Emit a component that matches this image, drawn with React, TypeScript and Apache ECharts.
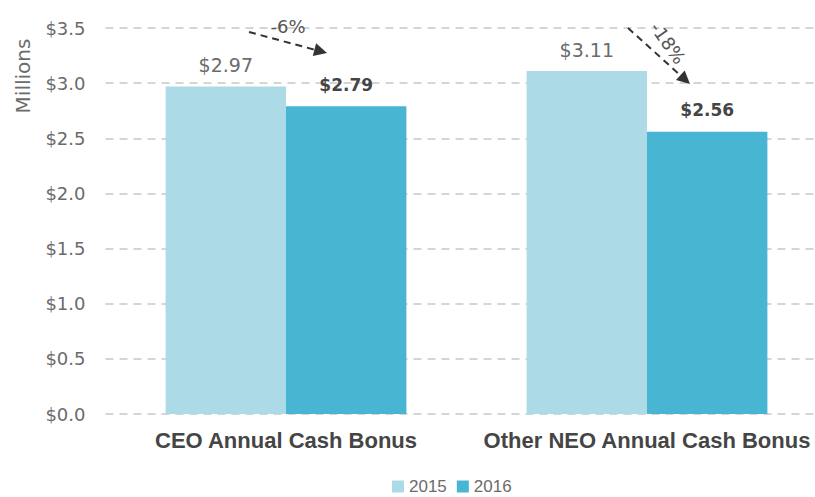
import React, { useEffect, useRef } from "react";
import * as echarts from "echarts";

// ---- data ----
const categories = ["CEO Annual Cash Bonus", "Other NEO Annual Cash Bonus"];
const seriesNames = ["2015", "2016"];
const values2015 = [2.97, 3.11];
const values2016 = [2.79, 2.56];
const changeLabels = ["-6%", "-18%"];
const yMin = 0;
const yMax = 3.5;
const yInterval = 0.5;
const yAxisTitle = "Millions";

// ---- annotation layout (pixel offsets from category centre / top gridline) ----
const annotLayout = [
  { sx: -37, sy: 4, tx: 41, ty: 25, lx: 2, ly: -2, rot: 0 },
  { sx: -19, sy: 0, tx: 43, ty: 56, lx: 21, ly: 15, rot: -55 },
];

const C2015 = "#acdbe7";
const C2016 = "#48b5d2";
const GRAY = "#6b6b6b";
const DARK = "#454545";

export default function App() {
  const ref = useRef<HTMLDivElement>(null);

  useEffect(() => {
    if (!ref.current) return;
    const chart = echarts.init(ref.current, null, { renderer: "svg" });
    const option: any = {
      animation: false,
      backgroundColor: "#ffffff",
      grid: { left: 105.5, right: 2.5, top: 28, bottom: 83, containLabel: false },
      legend: {
        left: 392,
        top: 478,
        padding: 0,
        itemWidth: 12,
        itemHeight: 12,
        itemGap: 10,
        icon: "rect",
        textStyle: { fontFamily: "Liberation Sans", fontSize: 17, color: GRAY, lineHeight: 17 },
        data: seriesNames,
      },
      xAxis: {
        type: "category",
        data: categories,
        axisLine: { show: false },
        axisTick: { show: false },
        axisLabel: {
          interval: 0,
          fontFamily: "Liberation Sans",
          fontWeight: "bold",
          fontSize: 22,
          color: DARK,
          margin: 15,
        },
      },
      yAxis: {
        type: "value",
        min: yMin,
        max: yMax,
        interval: yInterval,
        axisLine: { show: false },
        axisTick: { show: false },
        axisLabel: {
          fontFamily: "DejaVu Sans",
          fontSize: 18,
          color: GRAY,
          margin: 20,
          formatter: (v: number) => "$" + v.toFixed(1),
        },
        splitLine: {
          lineStyle: { color: "#c8c8c8", type: [8, 6], width: 1.5 },
        },
      },
      series: [
        {
          name: seriesNames[0],
          type: "bar",
          data: values2015,
          barGap: "0%",
          barCategoryGap: "33.3%",
          itemStyle: { color: C2015 },
          label: {
            show: true,
            position: "top",
            distance: 12,
            fontFamily: "DejaVu Sans",
            fontSize: 19,
            color: GRAY,
            formatter: (p: any) => "$" + p.value.toFixed(2),
          },
        },
        {
          name: seriesNames[1],
          type: "bar",
          data: values2016,
          barGap: "0%",
          barCategoryGap: "33.3%",
          itemStyle: { color: C2016 },
          label: {
            show: true,
            position: "top",
            distance: 13,
            fontFamily: "DejaVu Sans",
            fontWeight: "bold",
            fontSize: 17,
            color: DARK,
            formatter: (p: any) => "$" + p.value.toFixed(2),
          },
        },
      ],
    };
    chart.setOption(option);

    // annotations anchored on category centres and the top gridline
    const yTop = chart.convertToPixel({ yAxisIndex: 0 }, yMax) as number;
    const graphics: any[] = [
      {
        type: "text",
        x: 23,
        y: 76,
        rotation: Math.PI / 2,
        style: {
          text: yAxisTitle,
          fontFamily: "DejaVu Sans",
          fontSize: 20,
          fill: GRAY,
          align: "center",
          verticalAlign: "middle",
        },
      },
    ];
    changeLabels.forEach((lab, i) => {
      const cx = chart.convertToPixel({ xAxisIndex: 0 }, i) as number;
      const L = annotLayout[i];
      const sx = cx + L.sx, sy = yTop + L.sy;
      const tx = cx + L.tx, ty = yTop + L.ty;
      const dx = tx - sx, dy = ty - sy;
      const len = Math.sqrt(dx * dx + dy * dy);
      const ux = dx / len, uy = dy / len;
      const headLen = 13, headHalf = 6.5;
      const bx = tx - ux * headLen, by = ty - uy * headLen;
      graphics.push({
        type: "line",
        shape: { x1: sx, y1: sy, x2: bx + ux * 2, y2: by + uy * 2 },
        style: { stroke: "#333333", lineWidth: 2, lineDash: [7, 5] },
      });
      graphics.push({
        type: "polygon",
        shape: {
          points: [
            [tx, ty],
            [bx - uy * headHalf, by + ux * headHalf],
            [bx + uy * headHalf, by - ux * headHalf],
          ],
        },
        style: { fill: "#333333" },
      });
      graphics.push({
        type: "text",
        x: cx + L.lx,
        y: yTop + L.ly,
        rotation: (L.rot * Math.PI) / 180,
        style: {
          text: lab,
          fontFamily: "DejaVu Sans",
          fontSize: 18,
          fill: "#555555",
          align: "center",
          verticalAlign: "middle",
        },
      });
    });
    chart.setOption({ graphic: graphics });

    return () => chart.dispose();
  }, []);

  return (
    <div
      style={{ position: "fixed", left: 0, top: 0, width: 815, height: 497, overflow: "hidden", background: "#fff" }}
    >
      <div ref={ref} style={{ width: 830, height: 497 }} />
    </div>
  );
}
